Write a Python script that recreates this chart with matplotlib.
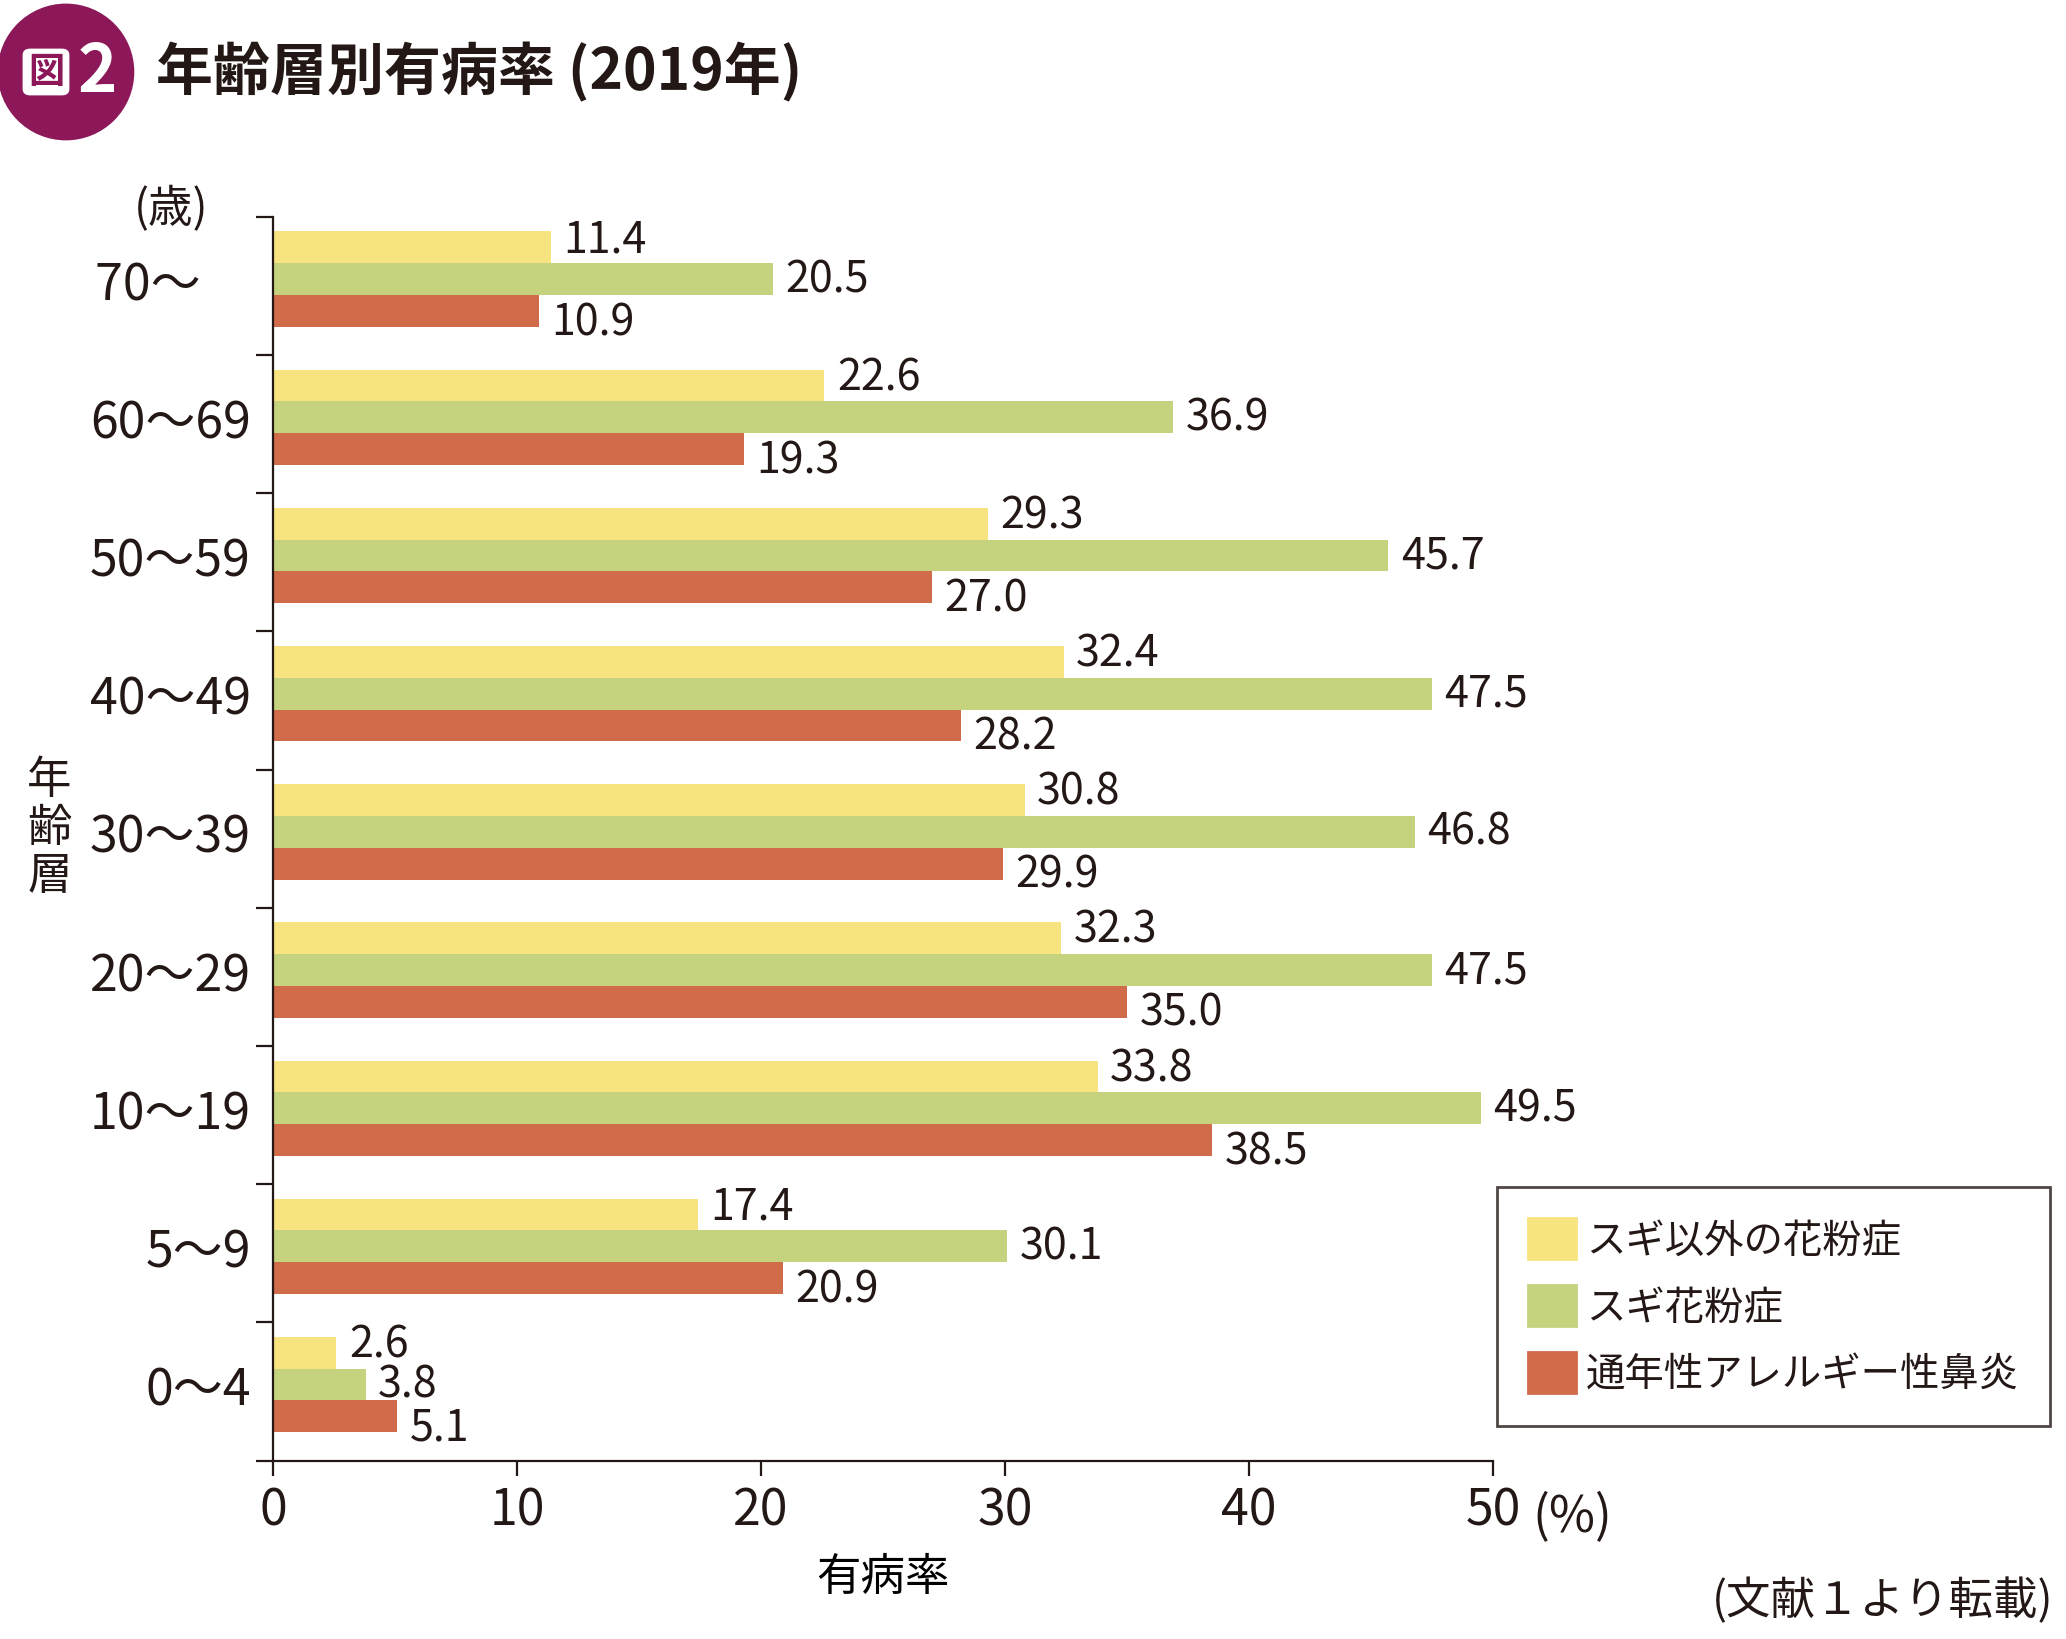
import numpy as np
import matplotlib.pyplot as plt
from matplotlib.patches import Ellipse, FancyBboxPatch, Patch

plt.rcParams['font.family'] = ['Noto Sans CJK JP', 'DejaVu Sans']
ink = '#231815'
plt.rcParams['text.color'] = ink
plt.rcParams['axes.edgecolor'] = ink
plt.rcParams['xtick.color'] = ink
plt.rcParams['ytick.color'] = ink

# データ（上から順）
ages = ['70～\u3000', '60～69', '50～59', '40～49', '30～39', '20～29', '10～19', '5～9', '0～4']
other_pollen = [11.4, 22.6, 29.3, 32.4, 30.8, 32.3, 33.8, 17.4, 2.6]
cedar_pollen = [20.5, 36.9, 45.7, 47.5, 46.8, 47.5, 49.5, 30.1, 3.8]
perennial = [10.9, 19.3, 27.0, 28.2, 29.9, 35.0, 38.5, 20.9, 5.1]
series_names = ['スギ以外の花粉症', 'スギ花粉症', '通年性アレルギー性鼻炎']
colors = ['#F7E480', '#C5D37E', '#D16C4B']
xticks = [0, 10, 20, 30, 40, 50]

fig = plt.figure(figsize=(10.33, 8.2), dpi=200)
ax = fig.add_axes([0.1321, 0.1088, 0.5906, 0.7583])

n = len(ages)
pos = np.arange(n)[::-1] + 0.05
h = 0.23
series = [other_pollen, cedar_pollen, perennial]
shifts = [h, 0, -h]
dys = [3, 0, -4]
for vals, sh, c, dy in zip(series, shifts, colors, dys):
    bars = ax.barh(pos + sh, vals, height=h, color=c, linewidth=0)
    for b, v in zip(bars, vals):
        ax.annotate(f'{v:.1f}', (b.get_width(), b.get_y() + b.get_height() / 2),
                    xytext=(4.5, dy), textcoords='offset points',
                    ha='left', va='center', fontsize=15.5)

ax.set_xlim(0, 50)
ax.set_ylim(-0.5, n - 0.5)
ax.spines['top'].set_visible(False)
ax.spines['right'].set_visible(False)
ax.spines['left'].set_linewidth(0.8)
ax.spines['bottom'].set_linewidth(0.8)

ax.set_yticks(np.arange(n + 1) - 0.5)
ax.set_yticklabels([])
ax.set_yticks(pos, ages, minor=True)
ax.tick_params(axis='y', which='major', direction='out', length=6, width=0.8)
ax.tick_params(axis='y', which='minor', length=0, pad=8, labelsize=18)

ax.set_xticks(xticks)
ax.set_xticklabels([str(t) for t in xticks])
ax.tick_params(axis='x', direction='out', length=5.5, width=0.8, pad=3, labelsize=18)
ax.set_xlabel('有病率', fontsize=16, labelpad=6)

ax.text(1.032, -0.0445, '(%)', transform=ax.transAxes, fontsize=18, ha='left', va='center')
ax.text(-0.083, 1.007, '(歳)', transform=ax.transAxes, fontsize=16, ha='center', va='center')
fig.text(0.024, 0.495, '年\n齢\n層', fontsize=16, ha='center', va='center', linespacing=1.05)

leg = ax.legend([Patch(color=c) for c in colors], series_names,
                loc='upper left', bbox_to_anchor=(0.7245, 0.2757), bbox_transform=fig.transFigure,
                fontsize=14.2, frameon=True, fancybox=False, edgecolor=ink,
                handlelength=1.2, handleheight=1.2, handletextpad=0.25,
                labelspacing=0.62, borderpad=0.8, borderaxespad=0)
leg.get_frame().set_linewidth(1.0)

# タイトル
fig.patches.append(Ellipse((0.0319, 0.9555), 134 / 2066, 134 / 1640,
                           transform=fig.transFigure, color='#8D1859', zorder=1))
fig.patches.append(FancyBboxPatch((24 / 2066, 1 - 95 / 1640), 44 / 2066, 44 / 1640,
                                  boxstyle='round,pad=0,rounding_size=0.003',
                                  transform=fig.transFigure, color='white', zorder=2))
fig.text(46 / 2066, 1 - 72 / 1640, '図', fontsize=13, fontweight='bold', color='#8D1859',
         ha='center', va='center', zorder=3)
fig.text(97 / 2066, 1 - 72 / 1640, '2', fontsize=24, fontweight='bold', color='white',
         ha='center', va='center', zorder=3)
fig.text(156 / 2066, 1 - 72 / 1640, '年齢層別有病率 (2019年)', fontsize=20.5, fontweight='bold',
         ha='left', va='center')

fig.text(0.994, 0.024, '(文献１より転載)', fontsize=16, ha='right', va='center')

fig.savefig('out.png', dpi=200, facecolor='white')
